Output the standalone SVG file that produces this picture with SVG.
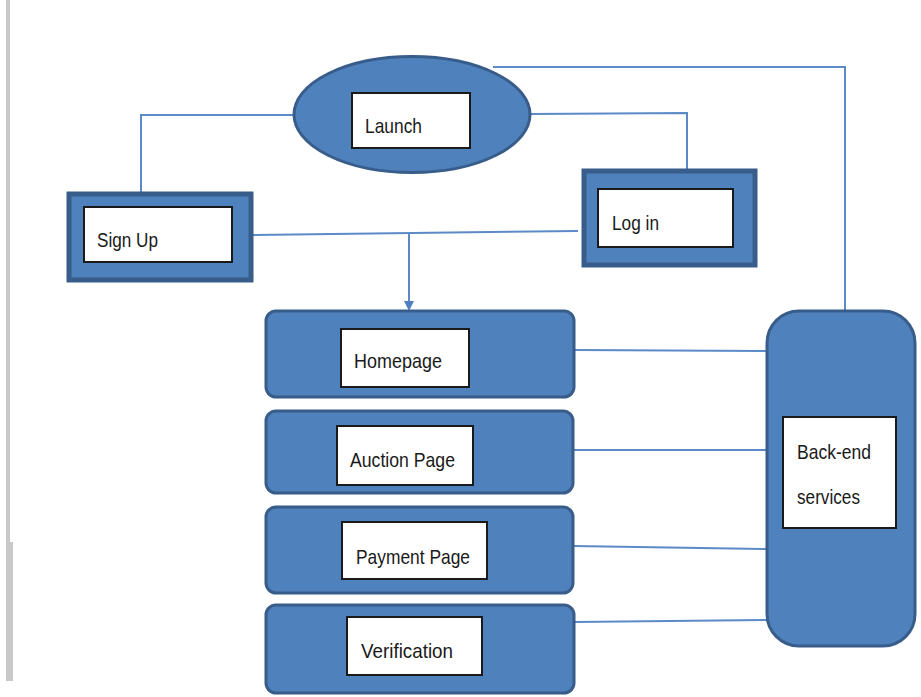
<svg xmlns="http://www.w3.org/2000/svg" width="921" height="697" viewBox="0 0 921 697">
<style>
.node{fill:#4f81bd;stroke:#385d8a}
.sq{stroke-width:5}
.rd{stroke-width:3}
.lbl{fill:#ffffff;stroke:#1a1a1a;stroke-width:2}
.t{font-family:"Liberation Sans",Arial,sans-serif;font-size:21px;fill:#1a1a1a}
.c{fill:none;stroke:#5b8ac6;stroke-width:2}
</style>
<defs>
<marker id="arr" markerWidth="10" markerHeight="10" refX="8" refY="5" orient="auto" markerUnits="userSpaceOnUse">
<path d="M0,0 L10,5 L0,10 Z" fill="#4f7fc0"/>
</marker>
</defs>
<rect x="6" y="0" width="4" height="542" fill="#c8c8c8"/>
<rect x="6" y="542" width="7" height="139" fill="#c8c8c8"/>
<g id="connectors">
<polyline class="c" points="294,115 141,115 141,192"/>
<polyline class="c" points="530,114 687,113 687,169"/>
<polyline class="c" points="493,67 845,67 845,310"/>
<line class="c" x1="253" y1="235" x2="578" y2="231"/>
<line class="c" x1="409" y1="233" x2="409" y2="309" marker-end="url(#arr)"/>
<line class="c" x1="575" y1="350" x2="767" y2="351"/>
<line class="c" x1="573" y1="450" x2="767" y2="450"/>
<line class="c" x1="573" y1="546" x2="767" y2="549"/>
<line class="c" x1="575" y1="622" x2="767" y2="620"/>
</g>
<g id="launch">
<ellipse class="node rd" cx="412" cy="114.5" rx="118" ry="58"/>
<rect class="lbl" x="352" y="93" width="118" height="55"/>
<text class="t" x="365" y="133" textLength="57" lengthAdjust="spacingAndGlyphs">Launch</text>
</g>
<g id="signup">
<rect class="node sq" x="69" y="194" width="182" height="86"/>
<rect class="lbl" x="84" y="207" width="148" height="55"/>
<text class="t" x="97" y="247" textLength="61" lengthAdjust="spacingAndGlyphs">Sign Up</text>
</g>
<g id="login">
<rect class="node sq" x="584" y="171" width="171" height="94"/>
<rect class="lbl" x="598" y="189" width="135" height="58"/>
<text class="t" x="612" y="230" textLength="47" lengthAdjust="spacingAndGlyphs">Log in</text>
</g>
<g id="homepage">
<rect class="node rd" x="266" y="311" width="308" height="86" rx="10"/>
<rect class="lbl" x="341" y="329" width="128" height="58"/>
<text class="t" x="354" y="368" textLength="88" lengthAdjust="spacingAndGlyphs">Homepage</text>
</g>
<g id="auction">
<rect class="node rd" x="266" y="411" width="307" height="82" rx="10"/>
<rect class="lbl" x="337" y="426" width="136" height="59"/>
<text class="t" x="350" y="467" textLength="105" lengthAdjust="spacingAndGlyphs">Auction Page</text>
</g>
<g id="payment">
<rect class="node rd" x="266" y="507" width="307" height="86" rx="10"/>
<rect class="lbl" x="342" y="522" width="145" height="57"/>
<text class="t" x="356" y="564" textLength="114" lengthAdjust="spacingAndGlyphs">Payment Page</text>
</g>
<g id="verification">
<rect class="node rd" x="266" y="605" width="308" height="88" rx="10"/>
<rect class="lbl" x="347" y="617" width="135" height="58"/>
<text class="t" x="361" y="658" textLength="92" lengthAdjust="spacingAndGlyphs">Verification</text>
</g>
<g id="backend">
<rect class="node rd" x="767" y="311" width="148" height="335" rx="32"/>
<rect class="lbl" x="783" y="417" width="113" height="111"/>
<text class="t" x="797" y="459" textLength="74" lengthAdjust="spacingAndGlyphs">Back-end</text>
<text class="t" x="797" y="504" textLength="63" lengthAdjust="spacingAndGlyphs">services</text>
</g>
</svg>
